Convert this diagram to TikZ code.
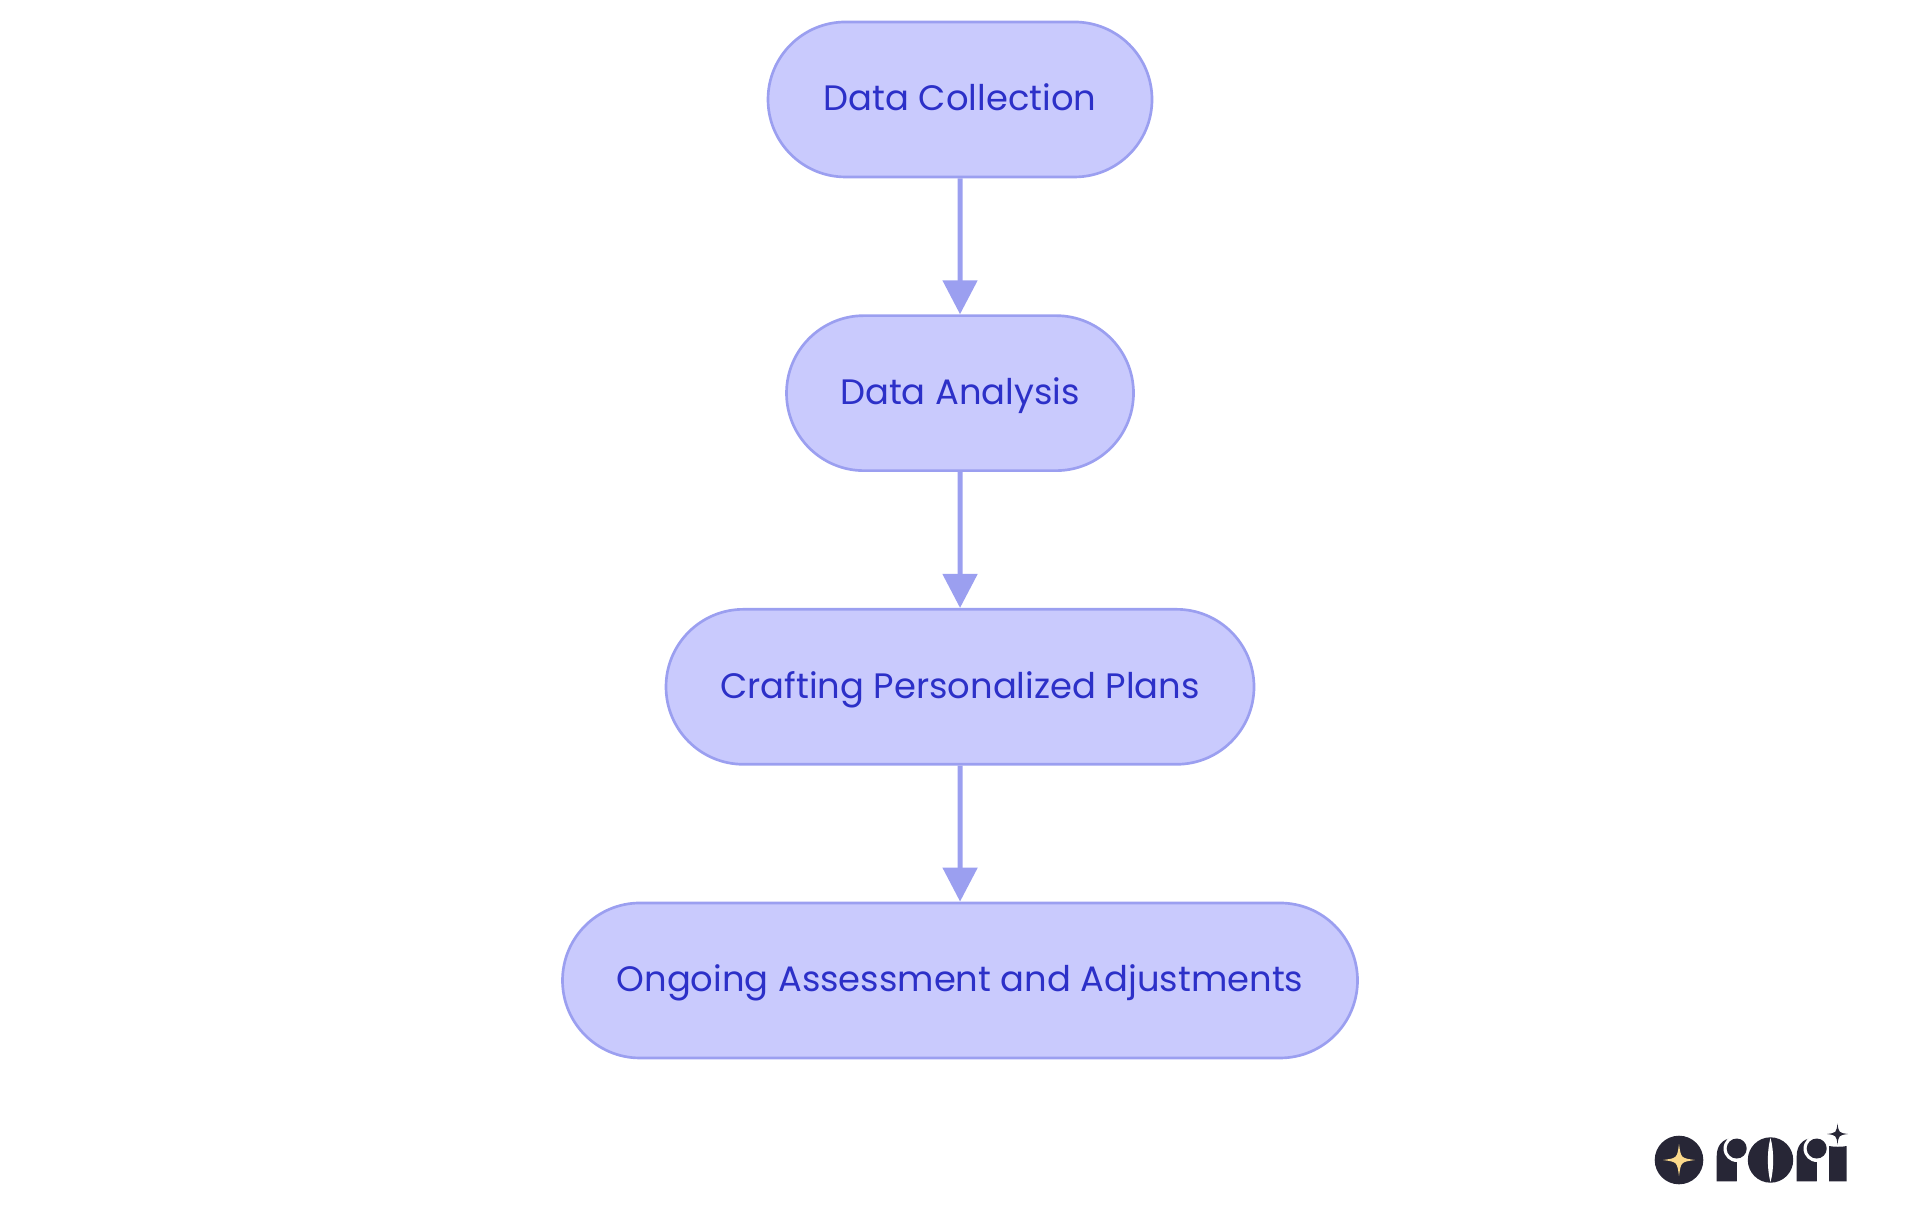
\documentclass[tikz,border=0pt]{standalone}
\usepackage{fontspec}
\setmainfont{Poppins}
\usepackage{xcolor}
\usepackage{tikz}
\usetikzlibrary{shapes.misc, arrows.meta}
\definecolor{stagefill}{HTML}{C9CAFD}
\definecolor{stageline}{HTML}{9B9FF0}
\definecolor{stagetext}{HTML}{2C30C8}
\definecolor{logoink}{HTML}{272636}
\definecolor{logostar}{HTML}{FBD98B}
\tikzstyle{stage} = [rounded rectangle, 
minimum height=116.25pt, 
inner sep=0pt, 
text height=22pt, 
text depth=4.75pt, 
text centered, 
fill=stagefill, 
line width=2pt, 
draw=stageline, 
text=stagetext, 
font=\fontsize{26.5}{32}\selectfont]
\tikzstyle{arrow} = [line width=3.75pt, draw=stageline, -{Triangle[length=25.5pt, width=25.5pt]}]
\newcommand{\fourstar}[4]{\fill[#4] (#1,#2-#3) .. controls (#1+.12*#3,#2-.12*#3) .. (#1+#3,#2) .. controls (#1+.12*#3,#2+.12*#3) .. (#1,#2+#3) .. controls (#1-.12*#3,#2+.12*#3) .. (#1-#3,#2) .. controls (#1-.12*#3,#2-.12*#3) .. (#1,#2-#3) -- cycle;}
\begin{document}
\begin{tikzpicture}
			\useasboundingbox (0,0) rectangle (1440pt,-911.25pt);
			\node (collection)[stage, minimum width=288pt] at (720pt,-74.6pt) {Data Collection};
			
			\node (analysis)[stage, minimum width=260.25pt, below=102pt] at (collection.south) {Data Analysis};
			\draw [arrow] (collection) -- (analysis);
			
			\node (plans)[stage, minimum width=441pt, below=102pt] at (analysis.south) {Crafting Personalized Plans};
			\draw [arrow] (analysis) -- (plans);
			
			\node (assessment)[stage, minimum width=596.25pt, below=102pt] at (plans.south) {Ongoing Assessment and Adjustments};
			\draw [arrow] (plans) -- (assessment);
			
			% logo, drawn in pixels of the page
			\begin{scope}[x=.75pt, y=-.75pt]
				\fill[logoink] (1679,1160) circle (24.3);
				\fourstar{1679}{1160}{16}{logostar}
				% r
				\fill[logoink] (1716.7,1181.3) -- (1716.7,1156) .. controls (1716.7,1146) and (1722,1139) .. (1732,1138) -- (1745,1138) -- (1736.7,1181.3) -- cycle;
				\fill[white] (1737,1148.5) circle (13.5);
				\fill[white] (1737,1161) rectangle (1750,1182);
				\fill[logoink] (1736.7,1148.5) circle (10);
				% o
				\fill[logoink] (1770.5,1160) circle (22.7);
				\fill[white] (1770.5,1138) .. controls (1767,1150) and (1767,1170) .. (1770.5,1182) .. controls (1774,1170) and (1774,1150) .. (1770.5,1138) -- cycle;
				% r
				\fill[logoink] (1796.7,1181.3) -- (1796.7,1156) .. controls (1796.7,1146) and (1802,1139) .. (1812,1138) -- (1825,1138) -- (1816.7,1181.3) -- cycle;
				\fill[white] (1817,1148.5) circle (13.5);
				\fill[white] (1817,1161) rectangle (1830,1182);
				\fill[logoink] (1816.7,1148.5) circle (10);
				% i
				\fill[logoink] (1829,1181.3) -- (1829,1146) .. controls (1834,1147) and (1842,1147) .. (1846.7,1146) -- (1846.7,1181.3) -- cycle;
				\fourstar{1837.5}{1134}{10.5}{logoink}
			\end{scope}
		\end{tikzpicture}
\end{document}
